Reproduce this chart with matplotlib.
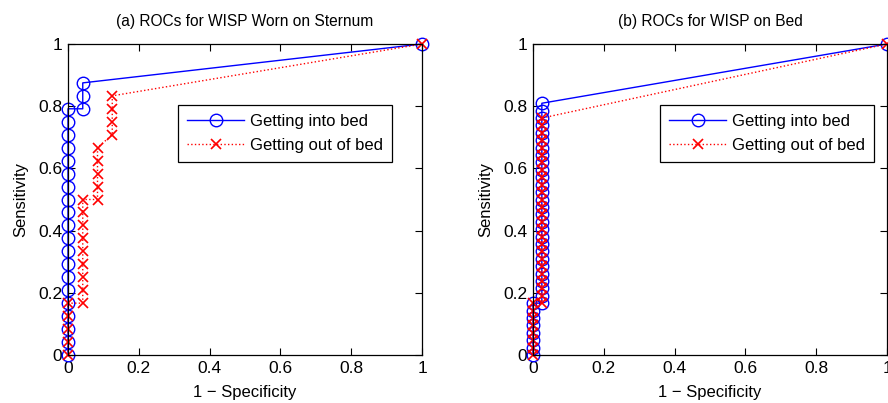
import numpy as np
import matplotlib
matplotlib.use("Agg")
import matplotlib.pyplot as plt

plt.rcParams['font.family'] = ['Liberation Sans', 'DejaVu Sans']

# (a) WISP worn on the sternum
a_into_fpr = [0]*20 + [1/24]*3 + [1]
a_into_tpr = [k/24 for k in range(20)] + [19/24, 20/24, 21/24] + [1]
a_out_fpr = [0]*5 + [1/24]*9 + [2/24]*5 + [3/24]*4 + [1]
a_out_tpr = ([k/24 for k in range(5)] + [k/24 for k in range(4, 13)]
             + [k/24 for k in range(12, 17)] + [k/24 for k in range(17, 21)] + [1])

# (b) WISP placed on the bed
b_into_fpr = [0]*8 + [0.025]*28 + [1]
b_into_tpr = [k/42 for k in range(8)] + [k/42 for k in range(7, 35)] + [1]
b_out_fpr = [0]*8 + [0.025]*26 + [1]
b_out_tpr = [k/42 for k in range(8)] + [k/42 for k in range(7, 33)] + [1]

titles = ["(a) ROCs for WISP Worn on Sternum", "(b) ROCs for WISP on Bed"]
ticks = [0, 0.2, 0.4, 0.6, 0.8, 1]
tick_labels = ["0", "0.2", "0.4", "0.6", "0.8", "1"]
series = [
    (a_into_fpr, a_into_tpr, a_out_fpr, a_out_tpr),
    (b_into_fpr, b_into_tpr, b_out_fpr, b_out_tpr),
]

fig = plt.figure(figsize=(8.88, 4.03), dpi=100)
lefts = [68/888, 533/888]
legend_right = [0.915, 0.963]
for i, left in enumerate(lefts):
    ax = fig.add_axes([left, 48/403, 354/888, 311/403])
    fx, fy, ox, oy = series[i]
    ax.plot(fx, fy, '-', color='#0000ff', lw=1.0, marker='o', markersize=9,
            markerfacecolor='none', markeredgewidth=1.0, label='Getting into bed')
    ax.plot(ox, oy, ':', color='#ff0000', lw=1.0, marker='x', markersize=6.5,
            markeredgewidth=1.2, label='Getting out of bed')
    ax.set_xlim(0, 1)
    ax.set_ylim(0, 1)
    ax.set_xticks(ticks)
    ax.set_xticklabels(tick_labels)
    ax.set_yticks(ticks)
    ax.set_yticklabels(tick_labels)
    ax.tick_params(direction='in', top=True, right=True, labelsize=12.5,
                   length=5, width=0.8, pad=4)
    for s in ax.spines.values():
        s.set_linewidth(0.9)
    ax.set_xlabel("1 \u2212 Specificity", fontsize=12, labelpad=7)
    ax.set_ylabel("Sensitivity", fontsize=12, labelpad=7)
    ax.set_title(titles[i], fontsize=11.2, pad=13)
    leg = ax.legend(loc='upper right', bbox_to_anchor=(legend_right[i], 0.805),
                    borderaxespad=0, fontsize=12, fancybox=False, framealpha=1,
                    edgecolor='black', handlelength=3.4, borderpad=0.55,
                    labelspacing=0.55, handletextpad=0.35)
    leg.get_frame().set_linewidth(0.9)
    for line in ax.lines:
        line.set_clip_on(False)

fig.savefig("out.png", dpi=100)
